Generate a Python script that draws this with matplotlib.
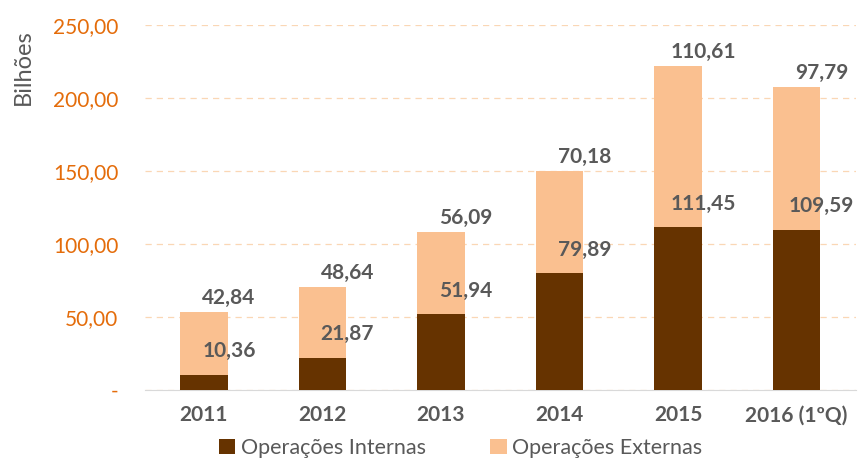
import numpy as np
import matplotlib.pyplot as plt

plt.rcParams['font.family'] = ['Lato', 'DejaVu Sans']

# dados (bilhões)
anos = ['2011', '2012', '2013', '2014', '2015', '2016 (1ºQ)']
internas = [10.36, 21.87, 51.94, 79.89, 111.45, 109.59]
externas = [42.84, 48.64, 56.09, 70.18, 110.61, 97.79]
yticks = [0, 50, 100, 150, 200, 250]

cor_int = '#663300'
cor_ext = '#FAC090'
cinza = '#595959'
laranja = '#E46C0A'

fig = plt.figure(figsize=(8.61, 4.61), dpi=100)
ax = fig.add_axes([0.168, 0.154, 0.826, 0.792])

x = np.arange(len(anos))
ax.bar(x, internas, width=0.4, color=cor_int, label='Operações Internas', zorder=3)
ax.bar(x, externas, width=0.4, bottom=internas, color=cor_ext, label='Operações Externas', zorder=3)

# rótulos de valores
for i in range(len(anos)):
    tot = internas[i] + externas[i]
    ax.annotate(f'{internas[i]:.2f}'.replace('.', ','), (x[i], internas[i]),
                xytext=(18, 17), textcoords='offset points', ha='center', va='center',
                fontsize=15, fontweight='bold', color=cinza, zorder=4)
    ax.annotate(f'{externas[i]:.2f}'.replace('.', ','), (x[i], tot),
                xytext=(18, 10), textcoords='offset points', ha='center', va='center',
                fontsize=15, fontweight='bold', color=cinza, zorder=4)

ax.set_xlim(-0.5, len(anos) - 0.5)
ax.set_ylim(0, 250)
ax.set_xticks(x)
ax.set_xticklabels(anos, fontsize=15, fontweight='bold', color=cinza)
ax.set_yticks(yticks)
ax.set_yticklabels(['-'] + [f'{v:.2f}'.replace('.', ',') for v in yticks[1:]],
                   fontsize=15, color=laranja)
ax.tick_params(length=0)
ax.tick_params(axis='x', pad=11)
ax.tick_params(axis='y', pad=19)

ax.grid(axis='y', color='#FAD7B5', linestyle=(0, (5, 4)), linewidth=0.9, zorder=0)
for s in ['top', 'right', 'left']:
    ax.spines[s].set_visible(False)
ax.spines['bottom'].set_color('#D9D9D9')

ax.set_ylabel('Bilhões', fontsize=17, color=cinza)
ax.yaxis.set_label_coords(-0.156, 0.885)

fig.legend(loc='center', bbox_to_anchor=(0.535, 0.028), ncol=2, frameon=False,
           fontsize=15.5, handlelength=0.75, handleheight=0.75, handletextpad=0.25,
           columnspacing=3.0, labelcolor=cinza)

fig.savefig('out.png', dpi=100)
